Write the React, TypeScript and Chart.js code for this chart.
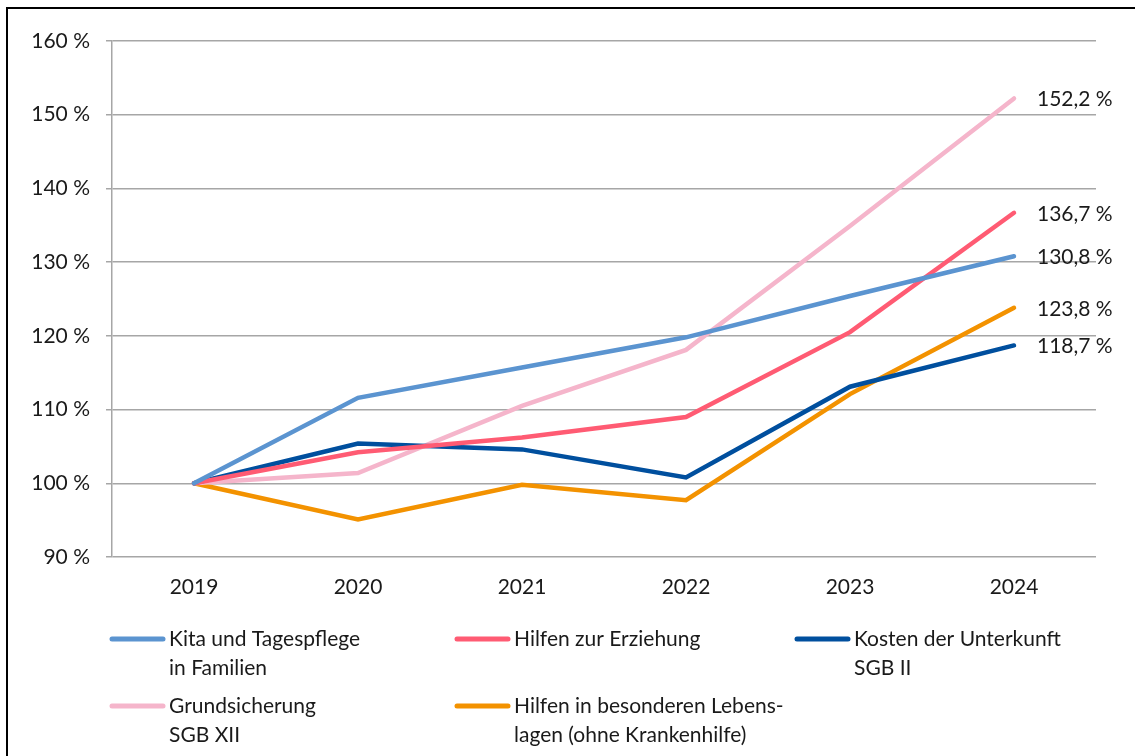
import React, { useEffect, useRef } from "react";
import { Chart, registerables } from "chart.js";

Chart.register(...registerables);

const years = ["2019", "2020", "2021", "2022", "2023", "2024"];
const kita = [100, 111.6, 115.7, 119.8, 125.4, 130.8];
const erziehung = [100, 104.2, 106.2, 109.0, 120.5, 136.7];
const unterkunft = [100, 105.4, 104.6, 100.8, 113.1, 118.7];
const grundsicherung = [100, 101.4, 110.5, 118.1, 134.9, 152.2];
const lebenslagen = [100, 95.1, 99.8, 97.7, 112.1, 123.8];

const seriesNames = [
  ["Kita und Tagespflege", "in Familien"],
  ["Hilfen zur Erziehung"],
  ["Kosten der Unterkunft", "SGB II"],
  ["Grundsicherung", "SGB XII"],
  ["Hilfen in besonderen Lebens-", "lagen (ohne Krankenhilfe)"],
];
const seriesColors = ["#5B94D0", "#FF5B73", "#004F9E", "#F5B5CB", "#F39200"];
const yTicks = [90, 100, 110, 120, 130, 140, 150, 160];

const FONT = "Lato, 'Noto Sans', sans-serif";
const FS = 21;

const fmt = (v: number) => v.toFixed(1).replace(".", ",") + " %";

const frameAndLabels = {
  id: "frameAndLabels",
  afterDraw(chart: any) {
    const ctx = chart.ctx;
    ctx.save();
    // frame
    ctx.strokeStyle = "#000";
    ctx.lineWidth = 2;
    ctx.beginPath();
    ctx.moveTo(7, 2000);
    ctx.lineTo(7, 8);
    ctx.lineTo(2000, 8);
    ctx.stroke();

    // end labels
    ctx.font = `${FS}px ${FONT}`;
    ctx.fillStyle = "#1a1a1a";
    ctx.textBaseline = "middle";
    ctx.textAlign = "left";
    chart.data.datasets.forEach((ds: any, i: number) => {
      const meta = chart.getDatasetMeta(i);
      const pt = meta.data[meta.data.length - 1];
      const v = ds.data[ds.data.length - 1];
      ctx.fillText(fmt(v), pt.x + 23, pt.y + 1);
    });

    // legend
    const cols = [110, 455, 795];
    const rows = [639, 706];
    const lineH = 29;
    seriesNames.forEach((lines, i) => {
      const c = i % 3;
      const r = Math.floor(i / 3);
      const x = cols[c];
      const y = rows[r];
      ctx.strokeStyle = seriesColors[i];
      ctx.lineWidth = 5;
      ctx.lineCap = "round";
      ctx.beginPath();
      ctx.moveTo(x + 2, y);
      ctx.lineTo(x + 53, y);
      ctx.stroke();
      lines.forEach((t, k) => {
        ctx.fillText(t, x + 59, y + k * lineH);
      });
    });
    ctx.restore();
  },
};

export default function App() {
  const ref = useRef<HTMLCanvasElement>(null);
  useEffect(() => {
    if (!ref.current) return;
    const all = [kita, erziehung, unterkunft, grundsicherung, lebenslagen];
    const chart = new Chart(ref.current, {
      type: "line",
      data: {
        labels: years,
        datasets: all.map((d, i) => ({
          label: seriesNames[i].join(" "),
          data: d,
          borderColor: seriesColors[i],
          backgroundColor: seriesColors[i],
          borderWidth: 4.5,
          pointRadius: 0,
          borderCapStyle: "round" as const,
          tension: 0,
        })),
      },
      options: {
        animation: false,
        responsive: true,
        maintainAspectRatio: false,
        layout: { padding: { left: 0, right: 39, top: 41, bottom: 0 } },
        plugins: {
          legend: { display: false },
          tooltip: { enabled: false },
        },
        scales: {
          x: {
            type: "category",
            offset: true,
            grid: { display: false, drawTicks: false },
            border: { display: false },
            ticks: {
              color: "#1a1a1a",
              font: { family: FONT, size: FS },
              padding: 18,
              maxRotation: 0,
            },
            afterFit: (s: any) => {
              s.height = 199;
            },
          },
          y: {
            min: 90,
            max: 160,
            afterBuildTicks: (s: any) => {
              s.ticks = yTicks.map((v) => ({ value: v }));
            },
            grid: { color: "#A6A6A6", lineWidth: 1.5, tickLength: 6 },
            border: { display: true, color: "#A6A6A6", width: 1.5 },
            ticks: {
              color: "#1a1a1a",
              font: { family: FONT, size: FS },
              padding: 16,
              callback: (v: any) => `${v} %`,
            },
            afterFit: (s: any) => {
              s.width = 112;
            },
          },
        },
      },
      plugins: [frameAndLabels],
    });
    return () => chart.destroy();
  }, []);
  return (
    <div style={{ position: "absolute", left: 0, top: 0, width: 1135, height: 756 }}>
      <canvas ref={ref} />
    </div>
  );
}
